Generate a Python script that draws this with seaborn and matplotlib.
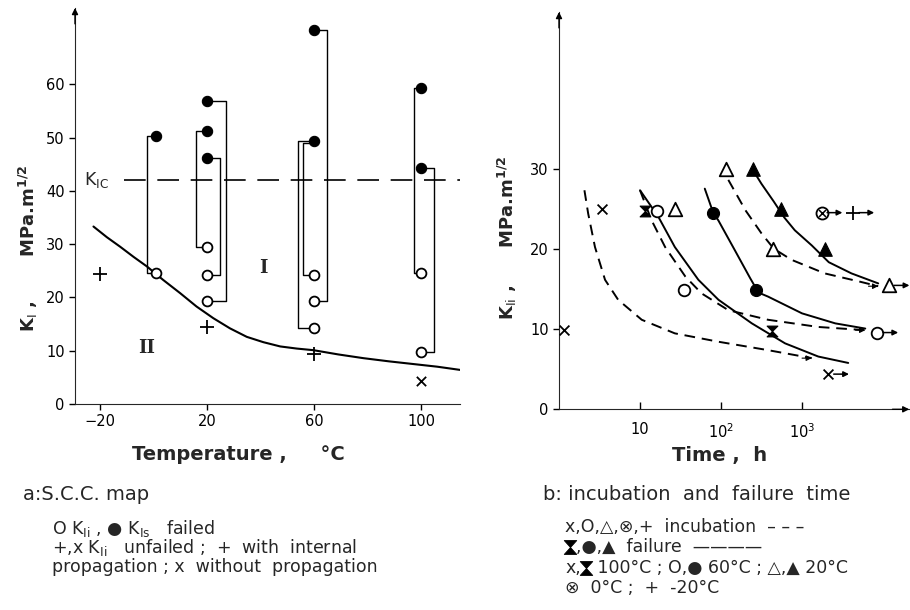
import numpy as np
import pandas as pd
import matplotlib
matplotlib.use("Agg")
import matplotlib.pyplot as plt
import seaborn as sns
from matplotlib.path import Path
from matplotlib.lines import Line2D
from matplotlib.transforms import offset_copy

# ---------------- data: panel a (S.C.C. map) ----------------
open_T = [1, 20, 20, 20, 60, 60, 60, 100, 100]            # K_Ii (failed)
open_K = [24.6, 29.5, 24.2, 19.3, 24.2, 19.3, 14.3, 24.5, 9.7]
fill_T = [1, 20, 20, 20, 60, 60, 100, 100]                 # K_Is
fill_K = [50.3, 56.8, 51.2, 46.2, 70.2, 49.4, 59.2, 44.3]
plus_T = [-20, 20, 60]                                     # unfailed, internal propagation
plus_K = [24.4, 14.4, 9.3]
cross_T = [100]                                            # unfailed, no propagation
cross_K = [4.3]
# brackets linking K_Is (top) to K_Ii (bottom) of the same specimen
br_T = [1, 20, 20, 20, 60, 60, 60, 100, 100]
br_top = [50.3, 51.2, 46.2, 56.8, 70.2, 49.4, 49.0, 59.2, 44.3]
br_bot = [24.6, 29.5, 24.2, 19.3, 19.3, 14.3, 24.2, 24.5, 9.7]
boundary_T = [-22.5, -17.5, -12.5, -7.5, -2.5, 3.5, 9.9, 16, 22.3, 28.5, 34.8, 41,
              47.3, 53.5, 59.7, 69, 78.4, 88, 97, 106, 114.5]
boundary_K = [33.3, 31.3, 29.5, 27.6, 25.8, 23.3, 20.8, 18.3, 16.1, 14.2, 12.6, 11.6,
              10.8, 10.4, 10.1, 9.3, 8.6, 8.0, 7.5, 7.0, 6.4]
KIc = 42.0

# ---------------- data: panel b (incubation and failure time) ----------------
x100_t = [1.16, 3.36];   x100_K = [9.9, 25.0]          # x  100°C incubation
x100u_t = [2100];        x100u_K = [4.4]               # x  unfailed (arrow)
hg100_t = [11.5, 427];   hg100_K = [24.8, 9.8]         # hourglass 100°C failure
o60_t = [16, 34.6];      o60_K = [24.8, 14.9]          # O 60°C incubation
o60u_t = [8500];         o60u_K = [9.6]
f60_t = [80, 270];       f60_K = [24.6, 14.9]          # ● 60°C failure
t20_t = [115, 27, 433];  t20_K = [30.0, 25.0, 20.1]    # △ 20°C incubation
t20u_t = [11700];        t20u_K = [15.5]
ft20_t = [251, 550, 1920]; ft20_K = [30.0, 25.0, 20.0] # ▲ 20°C failure
ox0_t = [1740];          ox0_K = [24.6]                # ⊗ 0°C
pm20_t = [4300];         pm20_K = [24.6]               # + -20°C

cA_t = [2.06, 2.29, 2.78, 3.70, 5.37, 10.5, 26.9, 93, 380, 1318]
cA_K = [27.4, 24.5, 20.3, 16.2, 13.7, 11.2, 9.5, 8.45, 7.4, 6.4]
cB_t = [10, 16.8, 26.9, 52.5, 93, 240, 617, 1585, 3715]
cB_K = [27.4, 24.1, 20.3, 16.2, 13.7, 10.75, 8.25, 6.6, 5.8]
cC_t = [10, 13.8, 20.4, 36.3, 57.5, 123, 380, 1585, 6030]
cC_K = [27.4, 23.7, 20.3, 16.6, 14.5, 12.4, 11.2, 10.3, 9.9]
cD_t = [63, 80, 93, 148, 229, 290, 380, 1000, 2570, 6030]
cD_K = [27.6, 24.6, 23.6, 19.9, 16.4, 14.6, 14.1, 12.0, 10.75, 10.1]
cE_t = [123, 200, 316, 447, 741, 1905, 5012, 8710]
cE_K = [28.7, 24.9, 22.0, 20.1, 18.7, 17.0, 16.0, 15.4]
cF_t = [263, 316, 447, 603, 813, 1318, 2138, 4074, 8710]
cF_K = [29.5, 28.2, 26.0, 24.0, 22.4, 20.5, 18.4, 17.0, 15.75]

# ---------------- style ----------------
sns.set_style("ticks")
FAM = ["DejaVu Sans", "DejaVu Sans Mono", "Noto Sans CJK SC"]
plt.rcParams["font.family"] = FAM
plt.rcParams["mathtext.default"] = "regular"
K = "black"

fig = plt.figure(figsize=(9.1, 6.1), dpi=100)
W, H = 910.0, 610.0
axL = fig.add_axes([75 / W, (H - 404) / H, 385 / W, 396 / H])
axR = fig.add_axes([559 / W, (H - 409.3) / H, 351 / W, 397.3 / H])

# ======================= panel a =======================
br_off = [-3.4, -4.1, 4.9, 7.1, 4.9, -6.1, -4.1, -2.7, 4.9]
for T, top, bot, o in zip(br_T, br_top, br_bot, br_off):
    axL.plot([T, T + o, T + o, T], [top, top, bot, bot], color=K, lw=1.0, zorder=1)

sns.lineplot(x=boundary_T, y=boundary_K, ax=axL, color=K, lw=1.5, sort=False,
             estimator=None, zorder=1)
axL.axhline(KIc, xmin=0.126, xmax=1.0, color=K, lw=1.2, ls=(0, (13, 7)), zorder=1)

sns.scatterplot(x=open_T, y=open_K, ax=axL, marker="o", s=50, facecolor="white",
                edgecolor=K, linewidth=1.3, zorder=3)
sns.scatterplot(x=fill_T, y=fill_K, ax=axL, marker="o", s=55, color=K,
                edgecolor=K, linewidth=0.8, zorder=3)
sns.scatterplot(x=plus_T, y=plus_K, ax=axL, marker="+", s=90, color=K,
                linewidth=1.3, zorder=3)
sns.scatterplot(x=cross_T, y=cross_K, ax=axL, marker="x", s=45, color=K,
                linewidth=1.3, zorder=3)

axL.text(-26, KIc, r"K$_{\rm IC}$", fontsize=12.5, va="center", ha="left")
axL.text(41, 25.5, "I", family="DejaVu Serif", fontweight="bold", fontsize=13,
         ha="center", va="center")
axL.text(-2.5, 10.6, "II", family="DejaVu Serif", fontweight="bold", fontsize=13,
         ha="center", va="center")

axL.set_xlim(-29.4, 114.5)
axL.set_ylim(0, 74.3)
axL.set_xticks([-20, 20, 60, 100])
axL.set_yticks([0, 10, 20, 30, 40, 50, 60])
axL.tick_params(axis="both", direction="out", length=4, width=1, labelsize=10.5,
                colors=K)
axL.set_xlabel("")
axL.set_ylabel("")
sns.despine(ax=axL)
axL.annotate("", xy=(0, 1.0), xytext=(0, 0.96), xycoords="axes fraction",
             arrowprops=dict(arrowstyle="-|>", color=K, lw=1, mutation_scale=9,
                             shrinkA=0, shrinkB=0))

# ======================= panel b =======================
dash = (0, (5.5, 3.5))
for tt, kk, ls in [(cA_t, cA_K, dash), (cB_t, cB_K, "-"), (cC_t, cC_K, dash),
                   (cD_t, cD_K, "-"), (cE_t, cE_K, dash), (cF_t, cF_K, "-")]:
    sns.lineplot(x=tt, y=kk, ax=axR, color=K, lw=1.4, ls=ls, sort=False,
                 estimator=None, zorder=1)

def end_head(ax, t, k, back=7):
    tr = offset_copy(ax.transData, fig=fig, x=-back, y=0, units="points")
    ax.annotate("", xy=(t, k), xycoords="data", xytext=(t, k), textcoords=tr,
                arrowprops=dict(arrowstyle="-|>", color=K, lw=0.8,
                                mutation_scale=8, shrinkA=0, shrinkB=0))

for tt, kk in [(cA_t, cA_K), (cC_t, cC_K), (cE_t, cE_K)]:
    end_head(axR, tt[-1], kk[-1])

def tail_arrow(ax, t, k, start=4, length=15):
    trs = offset_copy(ax.transData, fig=fig, x=start, y=0, units="points")
    tre = offset_copy(ax.transData, fig=fig, x=length, y=0, units="points")
    ax.annotate("", xy=(t, k), xycoords=tre, xytext=(t, k), textcoords=trs,
                arrowprops=dict(arrowstyle="-|>", color=K, lw=1.1,
                                mutation_scale=8, shrinkA=0, shrinkB=0),
                annotation_clip=False)

hourglass = Path([(-0.5, 0.5), (0.5, 0.5), (-0.5, -0.5), (0.5, -0.5), (-0.5, 0.5)],
                 [Path.MOVETO, Path.LINETO, Path.LINETO, Path.LINETO, Path.CLOSEPOLY])

sns.scatterplot(x=x100_t + x100u_t, y=x100_K + x100u_K, ax=axR, marker="x", s=50,
                color=K, linewidth=1.3, zorder=3)
sns.scatterplot(x=hg100_t, y=hg100_K, ax=axR, marker=hourglass, s=60, color=K,
                edgecolor=K, linewidth=0.8, zorder=3)
sns.scatterplot(x=o60_t + o60u_t, y=o60_K + o60u_K, ax=axR, marker="o", s=70,
                facecolor="white", edgecolor=K, linewidth=1.3, zorder=3)
sns.scatterplot(x=f60_t, y=f60_K, ax=axR, marker="o", s=75, color=K, edgecolor=K,
                linewidth=0.8, zorder=3)
sns.scatterplot(x=t20_t + t20u_t, y=t20_K + t20u_K, ax=axR, marker="^", s=95,
                facecolor="white", edgecolor=K, linewidth=1.3, zorder=3)
sns.scatterplot(x=ft20_t, y=ft20_K, ax=axR, marker="^", s=95, color=K, edgecolor=K,
                linewidth=0.8, zorder=3)
sns.scatterplot(x=ox0_t, y=ox0_K, ax=axR, marker="o", s=75, facecolor="white",
                edgecolor=K, linewidth=1.3, zorder=3)
sns.scatterplot(x=ox0_t, y=ox0_K, ax=axR, marker="x", s=25, color=K,
                linewidth=1.1, zorder=4)
sns.scatterplot(x=pm20_t, y=pm20_K, ax=axR, marker="+", s=90, color=K,
                linewidth=1.3, zorder=3)

for tt, kk in [(x100u_t, x100u_K), (o60u_t, o60u_K), (t20u_t, t20u_K),
               (ox0_t, ox0_K), (pm20_t, pm20_K)]:
    tail_arrow(axR, tt[0], kk[0])

axR.set_xscale("log")
axR.set_xlim(1, 21500)
axR.set_ylim(0, 49.7)
axR.set_xticks([10, 100, 1000])
axR.set_xticklabels(["10", r"10$^{2}$", r"10$^{3}$"])
axR.xaxis.set_minor_locator(matplotlib.ticker.NullLocator())
axR.set_yticks([0, 10, 20, 30])
axR.tick_params(axis="y", direction="out", length=4, width=1, labelsize=10.5, colors=K)
axR.tick_params(axis="x", direction="in", length=5, width=1, labelsize=10.5, colors=K,
                pad=9)
axR.set_xlabel("")
axR.set_ylabel("")
sns.despine(ax=axR)
axR.annotate("", xy=(0, 1.0), xytext=(0, 0.96), xycoords="axes fraction",
             arrowprops=dict(arrowstyle="-|>", color=K, lw=1, mutation_scale=9,
                             shrinkA=0, shrinkB=0))
axR.annotate("", xy=(0.998, 0), xytext=(0.95, 0), xycoords="axes fraction",
             arrowprops=dict(arrowstyle="-|>", color=K, lw=1, mutation_scale=9,
                             shrinkA=0, shrinkB=0), annotation_clip=False)

# ======================= labels & captions =======================
def ftext(x, y, s, **kw):
    return fig.text(x / W, 1 - y / H, s, **kw)

ftext(28, 248, r"K$_{\rm I}$ ,       MPa.m$^{1/2}$", rotation=90, ha="center",
      va="center", fontsize=13, fontweight="bold")
ftext(507, 238, r"K$_{\rm Ii}$ ,      MPa.m$^{1/2}$", rotation=90, ha="center",
      va="center", fontsize=13, fontweight="bold")
ftext(238, 455, "Temperature ,     °C", ha="center", va="center", fontsize=14,
      fontweight="bold")
ftext(720, 456, "Time ,  h", ha="center", va="center", fontsize=14,
      fontweight="bold")

CAP = 12.5
renderer = fig.canvas.get_renderer()

# hourglass symbol (no installed font has U+29D7), drawn as a shape
hg_text = Path([(-0.45, 0.5), (0.45, 0.5), (0.0, 0.0), (0.45, -0.5), (-0.45, -0.5),
                (0.0, 0.0), (-0.45, 0.5)],
               [Path.MOVETO, Path.LINETO, Path.LINETO, Path.LINETO, Path.LINETO,
                Path.LINETO, Path.CLOSEPOLY])

def caption(x, y, pieces, size=CAP):
    """pieces: strings, or None for the hourglass symbol; y is the baseline."""
    for p in pieces:
        if p is None:
            fig.add_artist(Line2D([(x + 5) / W], [1 - (y - 5.5) / H],
                                  marker=hg_text, markersize=10, color=K,
                                  markeredgewidth=0.6, transform=fig.transFigure))
            x += 11
        else:
            t = ftext(x, y, p, ha="left", va="baseline", fontsize=size)
            x += t.get_window_extent(renderer).width

caption(23, 500, ["a:S.C.C. map"], size=14)
caption(52, 534, [r"O K$_{\rm Ii}$ , ● K$_{\rm Is}$   failed"])
caption(52, 553, [r"+,x K$_{\rm Ii}$   unfailed ;  +  with  internal"])
caption(52, 572, ["propagation ; x  without  propagation"])

caption(543, 500, ["b: incubation  and  failure  time"], size=14)
caption(565, 532, ["x,O,△,⊗,+  incubation  – – –"])
caption(565, 552, [None, ",●,▲  failure  ————"])
caption(565, 573, ["x,", None, " 100°C ; O,● 60°C ; △,▲ 20°C"])
caption(565, 593, ["⊗  0°C ;  +  -20°C"])

fig.savefig("out.png", dpi=100, facecolor="white")
